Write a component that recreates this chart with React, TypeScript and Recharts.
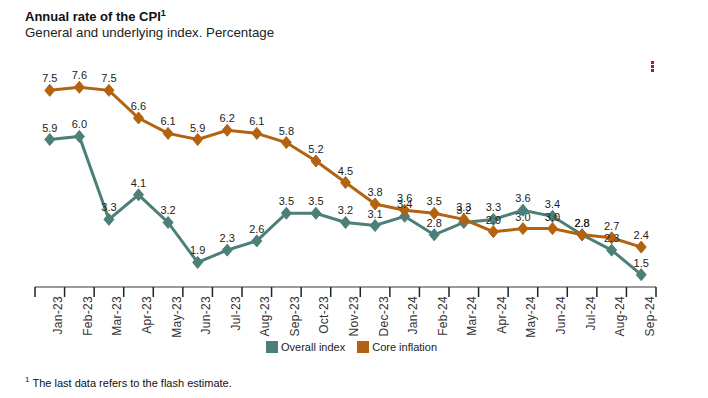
import { LineChart, Line, XAxis, YAxis, LabelList } from 'recharts';

const months = [
  'Jan-23', 'Feb-23', 'Mar-23', 'Apr-23', 'May-23', 'Jun-23', 'Jul-23', 'Aug-23', 'Sep-23', 'Oct-23', 'Nov-23',
  'Dec-23', 'Jan-24', 'Feb-24', 'Mar-24', 'Apr-24', 'May-24', 'Jun-24', 'Jul-24', 'Aug-24', 'Sep-24',
];
const overallIndex = [5.9, 6.0, 3.3, 4.1, 3.2, 1.9, 2.3, 2.6, 3.5, 3.5, 3.2, 3.1, 3.4, 2.8, 3.2, 3.3, 3.6, 3.4, 2.8, 2.3, 1.5];
const coreInflation = [7.5, 7.6, 7.5, 6.6, 6.1, 5.9, 6.2, 6.1, 5.8, 5.2, 4.5, 3.8, 3.6, 3.5, 3.3, 2.9, 3.0, 3.0, 2.8, 2.7, 2.4];

const TEAL = '#4b7f77';
const BROWN = '#b3620f';
const FONT = 'Arial, "Liberation Sans", sans-serif';

const LEFT = 35;
const RIGHT = 656;
const BAND = (RIGHT - LEFT) / months.length;

const data = months.map((m, i) => ({ month: m, overall: overallIndex[i], core: coreInflation[i] }));

function diamond(color: string) {
  return (props: any) => {
    const { cx, cy, index } = props;
    if (cx == null || cy == null) return <g key={index} />;
    return (
      <polygon
        key={index}
        points={`${cx},${cy - 6} ${cx + 5},${cy} ${cx},${cy + 6} ${cx - 5},${cy}`}
        fill={color}
        stroke={color}
      />
    );
  };
}

function MonthTick(props: any) {
  const { x, y, payload, index } = props;
  const lx = x + 12.5;
  const ly = y + 9;
  return (
    <g>
      <line x1={x - BAND / 2} y1={y} x2={x - BAND / 2} y2={y + 10} stroke="#222" strokeWidth={1.5} />
      {index === months.length - 1 && (
        <line x1={x + BAND / 2} y1={y} x2={x + BAND / 2} y2={y + 10} stroke="#222" strokeWidth={1.5} />
      )}
      <text
        x={lx}
        y={ly}
        transform={`rotate(-90 ${lx} ${ly})`}
        textAnchor="end"
        fontSize={12}
        letterSpacing={0.3}
        fill="#333"
        fontFamily={FONT}
      >
        {payload.value}
      </text>
    </g>
  );
}

export default function App() {
  const labelStyle = { fontSize: 11, fill: '#222', fontFamily: FONT };
  return (
    <div style={{ position: 'absolute', left: 0, top: 0, width: 708, height: 398, fontFamily: FONT, background: '#fff' }}>
      <div style={{ position: 'absolute', left: 25, top: 8, fontSize: 13, fontWeight: 'bold', color: '#111' }}>
        Annual rate of the CPI<sup style={{ fontSize: 9 }}>1</sup>
      </div>
      <div style={{ position: 'absolute', left: 25, top: 25, fontSize: 13.3, color: '#222' }}>
        General and underlying index. Percentage
      </div>
      <div style={{ position: 'absolute', left: 651, top: 61 }}>
        {[0, 1, 2].map((i) => (
          <div key={i} style={{ width: 3, height: 3, background: '#a3193b', marginBottom: 1 }} />
        ))}
      </div>

      <div style={{ position: 'absolute', left: 0, top: 0 }}>
        <LineChart width={708} height={398} data={data} margin={{ top: 75, left: LEFT, right: 708 - RIGHT, bottom: 51 }}>
          <XAxis
            dataKey="month"
            height={60}
            interval={0}
            padding={{ left: BAND / 2, right: BAND / 2 }}
            axisLine={{ stroke: '#9a9a9a', strokeWidth: 2 }}
            tickLine={false}
            tickSize={0}
            tickMargin={0}
            tick={<MonthTick />}
          />
          <YAxis hide domain={[1.1, 8]} />
          <Line
            dataKey="overall"
            stroke={TEAL}
            strokeWidth={3}
            dot={diamond(TEAL)}
            activeDot={false}
            isAnimationActive={false}
          >
            <LabelList dataKey="overall" position="top" offset={8} style={labelStyle} formatter={(v: any) => Number(v).toFixed(1)} />
          </Line>
          <Line
            dataKey="core"
            stroke={BROWN}
            strokeWidth={3}
            dot={diamond(BROWN)}
            activeDot={false}
            isAnimationActive={false}
          >
            <LabelList dataKey="core" position="top" offset={8} style={labelStyle} formatter={(v: any) => Number(v).toFixed(1)} />
          </Line>
        </LineChart>
      </div>

      <div style={{ position: 'absolute', left: 266, top: 341, display: 'flex', alignItems: 'center', fontSize: 11, color: '#222' }}>
        <span style={{ width: 12, height: 12, background: TEAL, display: 'inline-block', marginRight: 3 }} />
        <span style={{ marginRight: 12 }}>Overall index</span>
        <span style={{ width: 12, height: 12, background: BROWN, display: 'inline-block', marginRight: 3 }} />
        <span>Core inflation</span>
      </div>

      <div style={{ position: 'absolute', left: 25, top: 375, fontSize: 11, color: '#111' }}>
        <sup style={{ fontSize: 8, marginRight: 3 }}>1</sup>The last data refers to the flash estimate.
      </div>
    </div>
  );
}
